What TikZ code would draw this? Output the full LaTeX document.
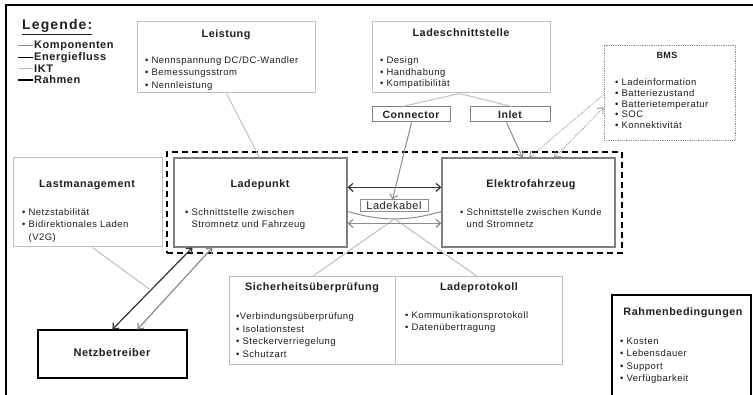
\documentclass[tikz,border=0pt]{standalone}
\usepackage{fontspec}
\setmainfont{Liberation Sans}[LetterSpace=5]
\usetikzlibrary{arrows.meta,calc,fit}
\definecolor{lgray}{HTML}{BFBFBF}
\definecolor{mgray}{HTML}{8C8C8C}
\definecolor{dgray}{HTML}{7F7F7F}
\definecolor{txt}{HTML}{1F1F1F}
\definecolor{adark}{HTML}{333333}
\begin{document}
\begin{tikzpicture}[x=1pt,y=-1pt,
  every node/.style={text=txt},
  lightbox/.style={draw=lgray, line width=1pt, inner sep=0pt},
  darkbox/.style={draw=dgray, line width=1.2pt, inner sep=0pt},
  blackbox/.style={draw=black, line width=1.2pt, inner sep=0pt},
  bmsbox/.style={draw=mgray, densely dotted, line width=0.8pt, inner sep=0pt},
  ttl/.style={font=\fontsize{10.8}{13}\selectfont\bfseries, inner sep=0pt},
  lst/.style={font=\fontsize{9.5}{12.3}\selectfont, align=left, inner sep=0pt, anchor=north west},
  thinline/.style={draw=lgray, line width=1pt},
  barb/.style={{Straight Barb[length=4.5pt,width=8pt]}-{Straight Barb[length=4.5pt,width=8pt]}},
  barbend/.style={-{Straight Barb[length=4.5pt,width=8pt]}},
  legtxt/.style={font=\fontsize{11}{13}\selectfont\bfseries, anchor=west, inner sep=0pt},
]
\useasboundingbox (0,0) rectangle (753,395);
\clip (0,0) rectangle (753,395);
\fill[white] (0,0) rectangle (753,395);

% outer frame
\draw[line width=1.6pt] (6,400) -- (6,5) -- (760,5);

% legend
\node[font=\fontsize{14}{16}\selectfont\bfseries\addfontfeature{LetterSpace=8}, anchor=west, inner sep=0pt] (leg) at (22,27) {\underline{Legende:}};
\draw[mgray, line width=1pt] (18,45.5) -- (33,45.5);
\node[legtxt] (legk) at (34,45.5) {Komponenten};
\draw[black, line width=1pt] (18,57.5) -- (33,57.5);
\node[legtxt] (lege) at (34,57.5) {Energiefluss};
\draw[lgray, line width=1pt] (18,68.5) -- (33,68.5);
\node[legtxt] (legi) at (34,68.5) {IKT};
\draw[black, line width=1.6pt] (18,80) -- (33,80);
\node[legtxt] (legr) at (34,80) {Rahmen};

% dashed frame
\node[draw=black, dashed, dash pattern=on 6pt off 4pt, line width=1.2pt, inner sep=0pt, fit={(167,152) (622,253)}] (frame) {};

% boxes
\node[lightbox, fit={(137,22) (315,93)}] (leist) {};
\node[ttl] (leistT) at (226,35) {Leistung};
\node[lst] (leistL) at (145,56.5) {• Nennspannung DC/DC-Wandler\\• Bemessungsstrom\\• Nennleistung};

\node[lightbox, fit={(372,22) (550,93)}] (lds) {};
\node[ttl] (ldsT) at (461,33) {Ladeschnittstelle};
\node[lst, font=\fontsize{9.5}{11.5}\selectfont] (ldsL) at (380,56.5) {• Design\\• Handhabung\\• Kompatibilität};

\node[darkbox, line width=1pt, fit={(372,107) (450,122)}] (conn) {};
\node[ttl, font=\fontsize{10.5}{12}\selectfont\bfseries] (connT) at (411,115) {Connector};
\node[darkbox, line width=1pt, fit={(470,107) (550,122)}] (inlet) {};
\node[ttl, font=\fontsize{10.5}{12}\selectfont\bfseries] (inletT) at (510,115) {Inlet};

\node[bmsbox, fit={(604,45) (735,140)}] (bms) {};
\node[ttl, font=\fontsize{9}{11}\selectfont\bfseries] (bmsT) at (667,55) {BMS};
\node[lst, font=\fontsize{9.5}{10.8}\selectfont] (bmsL) at (615,78.5) {• Ladeinformation\\• Batteriezustand\\• Batterietemperatur\\• SOC\\• Konnektivität};

\node[lightbox, fit={(13,158) (162,247)}] (lm) {};
\node[ttl] (lmT) at (87,185) {Lastmanagement};
\node[lst] (lmL) at (22,208.5) {• Netzstabilität\\• Bidirektionales Laden\\\hphantom{• }(V2G)};

\node[darkbox, fit={(174,158) (347,247)}] (lp) {};
\node[ttl] (lpT) at (260,185) {Ladepunkt};
\node[lst] (lpL) at (185,208.5) {• Schnittstelle zwischen\\\hphantom{• }Stromnetz und Fahrzeug};

\node[darkbox, fit={(442,158) (615,247)}] (efz) {};
\node[ttl] (efzT) at (531,185) {Elektrofahrzeug};
\node[lst] (efzL) at (460,208.5) {• Schnittstelle zwischen Kunde\\\hphantom{• }und Stromnetz};

\node[blackbox, fit={(38,330) (187,378)}] (nb) {};
\node[ttl, font=\fontsize{11}{13}\selectfont\bfseries] (nbT) at (112,353) {Netzbetreiber};

\node[lightbox, fit={(229,277) (395,365)}] (sich) {};
\node[ttl] (sichT) at (312,288) {Sicherheitsüberprüfung};
\node[lst, font=\fontsize{9.5}{12.7}\selectfont] (sichL) at (236,312.5) {•Verbindungsüberprüfung\\• Isolationstest\\• Steckerverriegelung\\• Schutzart};

\node[lightbox, fit={(395,277) (562,365)}] (lpr) {};
\node[ttl] (lprT) at (479,288) {Ladeprotokoll};
\node[lst] (lprL) at (405,311.5) {• Kommunikationsprotokoll\\• Datenübertragung};

\node[blackbox, fit={(612,295) (751,400)}] (rb) {};
\node[ttl] (rbT) at (683,313) {Rahmenbedingungen};
\node[lst, font=\fontsize{9.5}{12.4}\selectfont] (rbL) at (620,337.5) {• Kosten\\• Lebensdauer\\• Support\\• Verfügbarkeit};

\node[draw=mgray, line width=1pt, inner sep=0pt, fit={(360,200) (428,212)}] (kab) {};
\node[font=\fontsize{11}{13}\selectfont, inner sep=0pt] (kabT) at (394,206) {Ladekabel};

% component lines
\draw[thinline] ($(leist.south west)+(90,0)$) -- ($(lp.north west)+(86,0)$);
\draw[thinline] ($(lds.south west)+(88,0)$) -- ($(conn.north west)+(31,0)$);
\draw[thinline] ($(lds.south west)+(88,0)$) -- ($(inlet.north west)+(42,0)$);

% cable arc
\draw[draw=mgray, line width=1pt] ($(lp.north east)+(0,54)$) .. controls +(33,10) and +(-33,10) .. coordinate[pos=0.5] (kmid) ($(efz.north west)+(0,54)$);
\draw[thinline] (kmid) -- ($(sich.north west)+(84,0)$);
\draw[thinline] (kmid) -- ($(lpr.north west)+(83,0)$);

% energy / ICT arrows between Ladepunkt and Elektrofahrzeug
\draw[barb, adark, line width=1.2pt] ($(lp.north east)+(0,30)$) -- ($(efz.north west)+(0,30)$);
\draw[barb, mgray, line width=1.2pt] ($(lp.north east)+(0,66)$) -- ($(efz.north west)+(0,66)$);

% Connector -> Ladekabel, Inlet -> Elektrofahrzeug
\draw[barbend, mgray, line width=1pt] ($(conn.south west)+(40,0)$) -- ($(kab.north west)+(33,0)$);
\draw[barbend, mgray, line width=1pt] ($(inlet.south west)+(37,0)$) -- ($(efz.north west)+(81,0)$);

% BMS dotted
\draw[barbend, mgray, densely dotted, line width=0.8pt] ($(bms.north west)+(0,50)$) -- ($(efz.north west)+(88,0)$);
\draw[barb, mgray, densely dotted, line width=0.8pt] ($(efz.north west)+(113,0)$) -- ($(bms.north west)+(0,63)$);

% Netzbetreiber arrows
\draw[barb, adark, line width=1.2pt] ($(nb.north west)+(75,0)$) -- coordinate[pos=0.48] (nbmid) ($(lp.south west)+(19,0)$);
\draw[barb, mgray, line width=1.2pt] ($(nb.north west)+(100,0)$) -- ($(lp.south west)+(39,0)$);
\draw[thinline] ($(lm.south west)+(80,0)$) -- (nbmid);
\end{tikzpicture}
\end{document}
